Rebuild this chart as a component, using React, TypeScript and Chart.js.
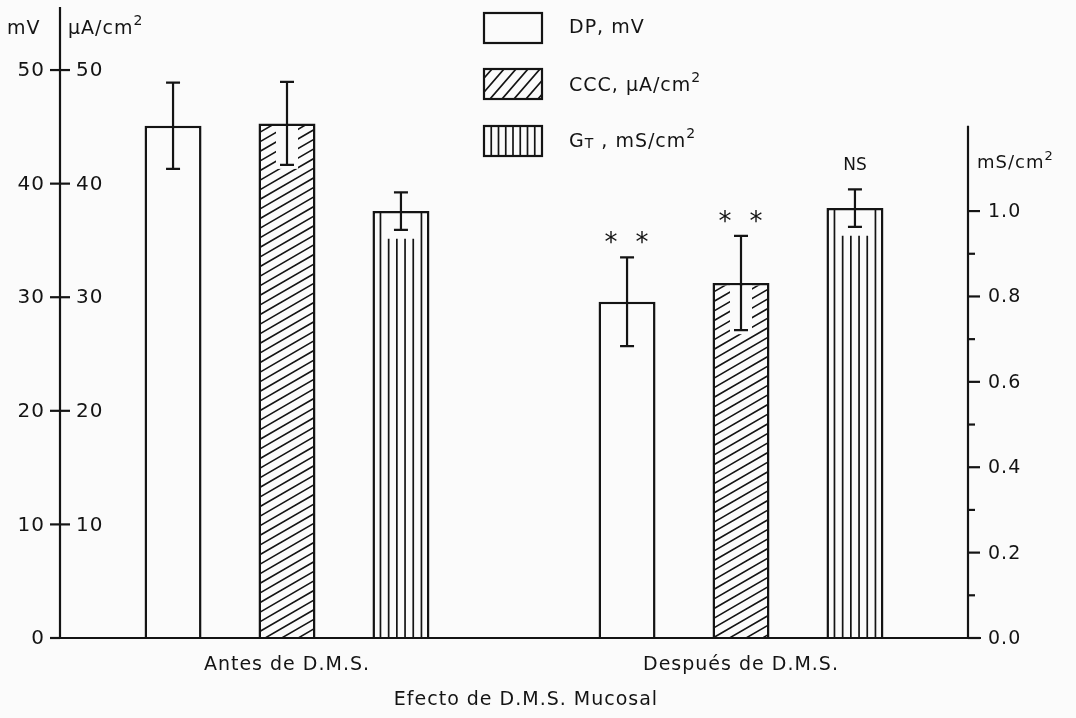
import React, { useEffect, useRef } from "react";
import { Chart, registerables } from "chart.js";

Chart.register(...registerables);

// ---------- data ----------
const categories = ["Antes de D.M.S.", "Después de D.M.S."];
const dpValues = [45.1, 29.6];
const dpErrors = [3.8, 3.9];
const cccValues = [45.3, 31.25];
const cccErrors = [3.65, 4.15];
const gtValues = [1.0, 1.007];
const gtErrors = [0.044, 0.044];
const dpMarks = ["", "* *"];
const cccMarks = ["", "* *"];
const gtMarks = ["", "NS"];
const leftTicks = [0, 10, 20, 30, 40, 50];
const rightTicks = [0, 0.2, 0.4, 0.6, 0.8, 1.0];
const rightMinorTicks = [0.1, 0.3, 0.5, 0.7, 0.9];
const legendLabels = ["DP, mV", "CCC, μA/cm2", "GT, mS/cm2"];

const INK = "#141414";
const BG = "#fbfbfb";
const FONT = "'DejaVu Sans', sans-serif";

type Part = [string, "n" | "sup" | "sub"];

function drawRich(c: CanvasRenderingContext2D, parts: Part[], x: number, y: number, size: number, align: "left" | "center" | "right" = "left") {
  c.save();
  c.textBaseline = "middle";
  c.textAlign = "left";
  (c as any).letterSpacing = "1px";
  const widths = parts.map(([t, k]) => {
    c.font = `${k === "n" ? size : Math.round(size * 0.72)}px ${FONT}`;
    return c.measureText(t).width;
  });
  const total = widths.reduce((a, b) => a + b, 0);
  let cx = align === "left" ? x : align === "center" ? x - total / 2 : x - total;
  parts.forEach(([t, k], i) => {
    c.font = `${k === "n" ? size : Math.round(size * 0.72)}px ${FONT}`;
    const dy = k === "sup" ? -size * 0.38 : k === "sub" ? size * 0.12 : 0;
    c.fillStyle = INK;
    c.fillText(t, cx, y + dy);
    cx += widths[i];
  });
  c.restore();
}

const bgPlugin = {
  id: "bg",
  beforeDraw(chart: any) {
    const c = chart.ctx;
    c.save();
    c.fillStyle = BG;
    c.fillRect(0, 0, chart.width, chart.height);
    c.restore();
  },
};

const drawPlugin = {
  id: "custom",
  afterDatasetsDraw(chart: any) {
    const c: CanvasRenderingContext2D = chart.ctx;
    const xs = chart.scales.x;
    const yl = chart.scales.yLeft;
    const yr = chart.scales.yRight;
    const area = chart.chartArea;
    const bottom = area.bottom;

    const info = [
      { vals: dpValues, errs: dpErrors, scale: yl, kind: "plain", marks: dpMarks },
      { vals: cccValues, errs: cccErrors, scale: yl, kind: "hatch", marks: cccMarks },
      { vals: gtValues, errs: gtErrors, scale: yr, kind: "vert", marks: gtMarks },
    ];

    info.forEach((d, di) => {
      const meta = chart.getDatasetMeta(di);
      meta.data.forEach((bar: any, i: number) => {
        const p = bar.getProps(["x", "y", "width"], true);
        const cx = p.x, top = p.y, w = p.width;
        const left = cx - w / 2, right = cx + w / 2;
        const errHi = d.scale.getPixelForValue(d.vals[i] + d.errs[i]);
        const errLo = d.scale.getPixelForValue(d.vals[i] - d.errs[i]);
        c.save();
        c.strokeStyle = INK;
        if (d.kind === "hatch") {
          c.save();
          c.beginPath();
          c.rect(left + 2.5, top + 2.5, w - 5, bottom - top - 2.5);
          c.clip();
          c.lineWidth = 1.6;
          const slope = 0.58, step = 9.6;
          c.beginPath();
          for (let yb = top; yb < bottom + w * slope + step; yb += step) {
            c.moveTo(left, yb);
            c.lineTo(right, yb - w * slope);
          }
          c.stroke();
          c.fillStyle = BG;
          c.fillRect(cx - 11, top + 2, 22, errLo + 4 - top - 2);
          c.restore();
        } else if (d.kind === "vert") {
          c.lineWidth = 1.7;
          const l0 = left + 8, r0 = right - 8;
          const gap = (r0 - l0) / 5;
          c.beginPath();
          for (let k = 0; k <= 5; k++) {
            const lx = l0 + k * gap;
            const start = k === 0 || k === 5 ? top + 1 : errLo + 9;
            c.moveTo(lx, start);
            c.lineTo(lx, bottom);
          }
          c.stroke();
        }
        // error bar
        c.lineWidth = 2.2;
        c.beginPath();
        c.moveTo(cx, errHi);
        c.lineTo(cx, errLo);
        c.moveTo(cx - 7, errHi);
        c.lineTo(cx + 7, errHi);
        c.moveTo(cx - 7, errLo);
        c.lineTo(cx + 7, errLo);
        c.stroke();
        // significance marks
        const m = d.marks[i];
        if (m) {
          c.fillStyle = INK;
          c.textAlign = "center";
          if (m === "* *") {
            c.font = `26px ${FONT}`;
            c.textBaseline = "alphabetic";
            const cyy = errHi - 21;
            c.fillText("*", cx - 16, cyy + 15);
            c.fillText("*", cx + 15, cyy + 15);
          } else {
            c.font = `17px ${FONT}`;
            c.textBaseline = "middle";
            c.fillText(m, cx, errHi - 24);
          }
        }
        c.restore();
      });
    });

    // ---------- axes ----------
    c.save();
    c.strokeStyle = INK;
    c.fillStyle = INK;
    c.lineWidth = 2.2;
    const ax = area.left;
    const rx = area.right;
    c.beginPath();
    c.moveTo(ax, area.top);
    c.lineTo(ax, bottom);
    c.moveTo(ax - 10, bottom);
    c.lineTo(rx + 13, bottom);
    c.moveTo(rx, yr.getPixelForValue(1.2));
    c.lineTo(rx, bottom);
    c.stroke();

    c.font = `20px ${FONT}`;
    (c as any).letterSpacing = "1px";
    c.textBaseline = "middle";
    leftTicks.forEach((v) => {
      const y = yl.getPixelForValue(v);
      c.beginPath();
      c.moveTo(ax - 10, y);
      c.lineTo(v === 0 ? ax : ax + 10, y);
      c.stroke();
      c.textAlign = "right";
      c.fillText(String(v), ax - 15, y + 1);
      if (v !== 0) {
        c.textAlign = "left";
        c.fillText(String(v), ax + 16, y + 1);
      }
    });

    c.font = `19px ${FONT}`;
    rightTicks.forEach((v) => {
      const y = yr.getPixelForValue(v);
      c.beginPath();
      c.moveTo(rx, y);
      c.lineTo(rx + 12, y);
      c.stroke();
      c.textAlign = "left";
      c.fillText(v.toFixed(1), rx + 20, y + 1);
    });
    rightMinorTicks.forEach((v) => {
      const y = yr.getPixelForValue(v);
      c.beginPath();
      c.moveTo(rx, y);
      c.lineTo(rx + 7, y);
      c.stroke();
    });
    c.restore();

    // axis unit labels
    drawRich(c, [["mV", "n"]], ax - 53, 29, 19, "left");
    drawRich(c, [["μA/cm", "n"], ["2", "sup"]], ax + 8, 29, 19, "left");
    drawRich(c, [["mS/cm", "n"], ["2", "sup"]], rx + 9, 163, 18, "left");

    // category labels
    categories.forEach((lab, i) => {
      drawRich(c, [[lab, "n"]], xs.getPixelForValue(i), 665, 19, "center");
    });
    drawRich(c, [["Efecto de D.M.S. Mucosal", "n"]], 526, 700, 19, "center");

    // ---------- legend ----------
    const boxL = 484, boxW = 58, boxH = 30;
    const rows = [13, 69, 126];
    c.save();
    c.strokeStyle = INK;
    rows.forEach((ry, k) => {
      c.fillStyle = BG;
      c.fillRect(boxL, ry, boxW, boxH);
      if (k === 1) {
        c.save();
        c.beginPath();
        c.rect(boxL + 1, ry + 1, boxW - 2, boxH - 2);
        c.clip();
        c.lineWidth = 1.7;
        c.beginPath();
        for (let xb = boxL - 30; xb < boxL + boxW + 10; xb += 12) {
          c.moveTo(xb, ry + boxH);
          c.lineTo(xb + 26, ry);
        }
        c.stroke();
        c.restore();
      } else if (k === 2) {
        c.lineWidth = 1.7;
        c.beginPath();
        for (let j = 1; j <= 7; j++) {
          const lx = boxL + j * (boxW / 8);
          c.moveTo(lx, ry);
          c.lineTo(lx, ry + boxH);
        }
        c.stroke();
      }
      c.lineWidth = 2.2;
      c.strokeRect(boxL, ry, boxW, boxH);
    });
    c.restore();
    drawRich(c, [["DP, mV", "n"]], 569, 28, 19, "left");
    drawRich(c, [["CCC, μA/cm", "n"], ["2", "sup"]], 569, 86, 19, "left");
    drawRich(c, [["G", "n"], ["T", "sub"], [" , mS/cm", "n"], ["2", "sup"]], 569, 142, 19, "left");
  },
};

export default function App() {
  const ref = useRef<HTMLCanvasElement>(null);
  useEffect(() => {
    document.body.style.margin = "0";
    const canvas = ref.current;
    if (!canvas) return;
    const chart = new Chart(canvas, {
      type: "bar",
      data: {
        labels: categories,
        datasets: [
          { label: legendLabels[0], data: dpValues, yAxisID: "yLeft", backgroundColor: BG, borderColor: INK, borderWidth: 2.5 },
          { label: legendLabels[1], data: cccValues, yAxisID: "yLeft", backgroundColor: BG, borderColor: INK, borderWidth: 2.5 },
          { label: legendLabels[2], data: gtValues, yAxisID: "yRight", backgroundColor: BG, borderColor: INK, borderWidth: 2.5 },
        ],
      },
      options: {
        responsive: false,
        animation: false,
        devicePixelRatio: 1,
        layout: { padding: { left: 60, right: 108, top: 7, bottom: 80 } },
        datasets: { bar: { categoryPercentage: 0.753, barPercentage: 0.5 } } as any,
        plugins: { legend: { display: false }, tooltip: { enabled: false }, title: { display: false } },
        scales: {
          x: { type: "category", display: false, offset: true },
          yLeft: { type: "linear", display: false, position: "left", min: 0, max: 55.55 },
          yRight: { type: "linear", display: false, position: "right", min: 0, max: 1.478 },
        },
      },
      plugins: [bgPlugin, drawPlugin],
    });
    return () => chart.destroy();
  }, []);
  return <canvas ref={ref} width={1076} height={718} style={{ display: "block" }} />;
}
